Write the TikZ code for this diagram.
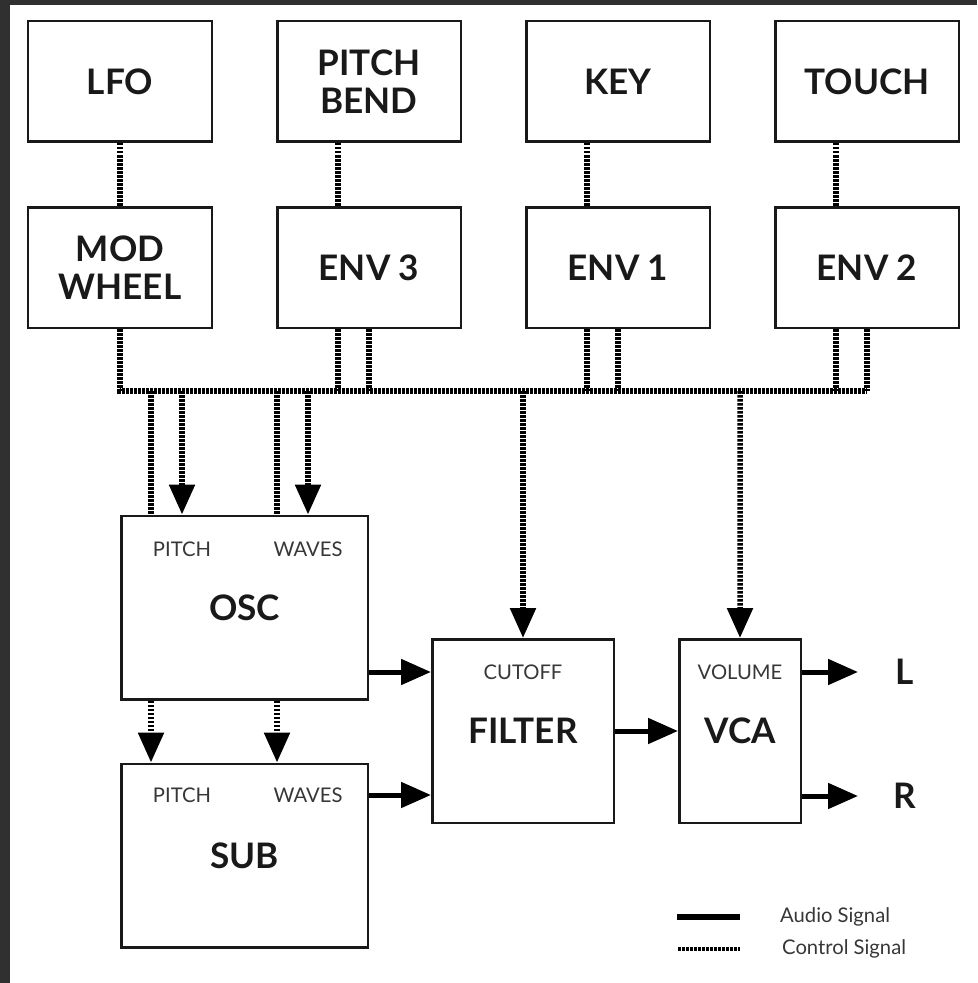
\documentclass[tikz,border=0pt]{standalone}
\usepackage{fontspec}
\setmainfont{Lato}
\usetikzlibrary{positioning, arrows.meta, calc}
\definecolor{frame}{RGB}{48, 48, 48}
\definecolor{tagtext}{RGB}{55, 55, 55}

\begin{document}
\begin{tikzpicture}[
  x=0.2mm, y=-0.2mm,
  node distance=12.6mm and 12.6mm,
  every node/.style={font=\fontsize{20}{22}\selectfont\bfseries, text=black!90},
  srcbox/.style={
    draw=black!90, line width=0.5mm,
    minimum width=36.7mm, minimum height=24.1mm,
    align=center, inner sep=0pt,
  },
  modbox/.style={
    draw=black!90, line width=0.5mm,
    minimum height=36.7mm, inner sep=0pt,
  },
  tag/.style={font=\fontsize{11.5}{13}\selectfont, text=tagtext},
  audio/.style={-{Triangle[length=6mm, width=5mm]}, line width=1mm},
  ctrl/.style={line width=1.1mm, dash pattern=on 0.5mm off 0.3mm},
  ctrlarr/.style={ctrl, -{Triangle[length=6mm, width=5mm]}},
]
  \useasboundingbox (0,0) rectangle (977,983);
  \fill[frame] (0,0) rectangle (977,5);
  \fill[frame] (0,0) rectangle (10,983);

  % sources and envelopes
  \node[srcbox]                    (lfo)   at (120,81.5) {LFO};
  \node[srcbox, right=of lfo]      (bend)  {PITCH\\BEND};
  \node[srcbox, right=of bend]     (key)   {KEY};
  \node[srcbox, right=of key]      (touch) {TOUCH};
  \node[srcbox, below=of lfo]      (mod)   {MOD\\WHEEL};
  \node[srcbox, below=of bend]     (env3)  {ENV 3};
  \node[srcbox, below=of key]      (env1)  {ENV 1};
  \node[srcbox, below=of touch]    (env2)  {ENV 2};

  % audio path
  \node[modbox, minimum width=49.3mm]          (osc)    at (244.5,607.5) {OSC};
  \node[modbox, minimum width=49.3mm, below=12.4mm of osc] (sub) {SUB};
  \node[modbox, minimum width=36.3mm]          (filter) at (523,731) {FILTER};
  \node[modbox, minimum width=24.3mm, right=of filter] (vca) {VCA};

  \node[tag] (oscpitch) at (182,549) {PITCH};
  \node[tag] (oscwaves) at (308,549) {WAVES};
  \node[tag] (subpitch) at (182,795) {PITCH};
  \node[tag] (subwaves) at (308,795) {WAVES};
  \node[tag] (cutoff)   at (523,672) {CUTOFF};
  \node[tag] (volume)   at (740,672) {VOLUME};

  \node (outl) at (905,672) {L};
  \node (outr) at (905,796) {R};

  % control wiring
  \draw[ctrl] (lfo) -- (mod);
  \draw[ctrl] ([xshift=-6.2mm]bend.south)  -- ([xshift=-6.2mm]env3.north);
  \draw[ctrl] ([xshift=-6.2mm]key.south)   -- ([xshift=-6.2mm]env1.north);
  \draw[ctrl] ([xshift=-6.2mm]touch.south) -- ([xshift=-6.2mm]env2.north);

  \coordinate (bus) at (120,391);
  \draw[ctrl] (mod.south) |- (env2.south |- bus);
  \foreach \e in {env3, env1, env2} {
    \draw[ctrl] ([xshift=-6.2mm]\e.south) -- ([xshift=-6.2mm]\e.south |- bus);
    \draw[ctrl] (\e.south) -- (\e.south |- bus);
  }

  \draw[ctrl]    ([xshift=-6.2mm]oscpitch |- bus) -- ([xshift=-6.2mm]oscpitch |- osc.north);
  \draw[ctrlarr] (oscpitch |- bus) -- (oscpitch |- osc.north);
  \draw[ctrl]    ([xshift=-6.2mm]oscwaves |- bus) -- ([xshift=-6.2mm]oscwaves |- osc.north);
  \draw[ctrlarr] (oscwaves |- bus) -- (oscwaves |- osc.north);
  \draw[ctrlarr] (cutoff |- bus) -- (filter.north);
  \draw[ctrlarr] (volume |- bus) -- (vca.north);

  \draw[ctrlarr] ([xshift=-6.2mm]oscpitch |- osc.south) -- ([xshift=-6.2mm]subpitch |- sub.north);
  \draw[ctrlarr] ([xshift=-6.2mm]oscwaves |- osc.south) -- ([xshift=-6.2mm]subwaves |- sub.north);

  % audio wiring
  \draw[audio] (osc.east |- cutoff)   -- (filter.west |- cutoff);
  \draw[audio] (sub.east |- subpitch) -- (filter.west |- subpitch);
  \draw[audio] (filter) -- (vca);
  \draw[audio] (vca.east |- outl) -- ([xshift=-9.4mm]outl.center);
  \draw[audio] (vca.east |- outr) -- ([xshift=-9.4mm]outr.center);

  % legend
  \node[tag, anchor=west] (audiokey) at (774,917) {Audio Signal};
  \node[tag, anchor=west] (ctrlkey)  at (776,949) {Control Signal};
  \draw[line width=1.1mm] ([xshift=-19.4mm]audiokey.west) -- ([xshift=-6.8mm]audiokey.west);
  \draw[ctrl, line width=0.8mm] ([xshift=-19.6mm]ctrlkey.west) -- ([xshift=-7.2mm]ctrlkey.west);
\end{tikzpicture}
\end{document}
